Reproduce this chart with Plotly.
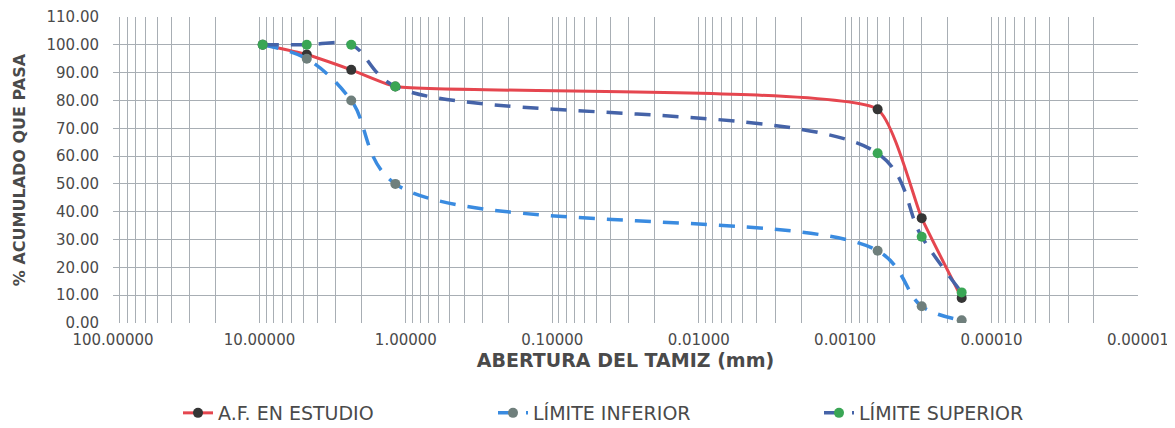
import plotly.graph_objects as go

# Sieve openings (mm)
abertura = [9.5, 4.75, 2.36, 1.18, 0.0006, 0.0003, 0.00016]
af_estudio = [100.0, 96.5, 91.0, 85.0, 76.8, 37.7, 9.0]
limite_inferior = [100.0, 95.0, 80.0, 50.0, 26.0, 6.0, 1.0]
limite_superior = [100.0, 100.0, 100.0, 85.0, 61.0, 31.0, 11.0]

x_ticks = [100, 10, 1, 0.1, 0.01, 0.001, 0.0001, 0.00001]
x_ticktext = ["100.00000", "10.00000", "1.00000", "0.10000", "0.01000",
              "0.00100", "0.00010", "0.00001"]

minor_vals = [m * 10.0 ** k for k in range(-5, 2) for m in range(2, 10)]

FONT = "DejaVu Sans, Liberation Sans, Arial, sans-serif"
GRID = "#a8aeb4"
TXT = "#4a4a4a"

# the page body adds an 8px offset, so the figure is 8px smaller each way
W, H = 1167, 420

fig = go.Figure()

fig.add_trace(go.Scatter(
    x=abertura, y=af_estudio, name="A.F. EN ESTUDIO", legend="legend",
    mode="lines+markers",
    line=dict(color="#e5464f", width=3, shape="spline", smoothing=0.45),
    marker=dict(color="#353535", size=10),
))
fig.add_trace(go.Scatter(
    x=abertura, y=limite_inferior, name="LÍMITE INFERIOR", legend="legend2",
    mode="lines+markers",
    line=dict(color="#3a8be0", width=3.5, shape="spline", smoothing=1, dash="16px,12px"),
    marker=dict(color="#6f7f7c", size=10),
))
fig.add_trace(go.Scatter(
    x=abertura, y=limite_superior, name="LÍMITE SUPERIOR", legend="legend3",
    mode="lines+markers",
    line=dict(color="#4563a8", width=3.5, shape="spline", smoothing=1, dash="16px,12px"),
    marker=dict(color="#3aa655", size=10),
))

leg_common = dict(orientation="h", xref="container", yref="container",
                  y=1 - 405 / H, yanchor="middle", xanchor="left",
                  font=dict(size=19, color=TXT), bgcolor="rgba(0,0,0,0)")

fig.update_layout(
    width=W, height=H,
    margin=dict(l=105, r=37, t=9, b=105),
    paper_bgcolor="white", plot_bgcolor="white",
    font=dict(family=FONT, size=15, color=TXT),
    showlegend=True,
    legend=dict(x=170 / W, **leg_common),
    legend2=dict(x=485 / W, **leg_common),
    legend3=dict(x=811 / W, **leg_common),
)

fig.update_xaxes(
    type="log", range=[2, -5], automargin=False,
    tickvals=x_ticks, ticktext=x_ticktext,
    tickfont=dict(size=15, color=TXT), ticklabelstandoff=6,
    showgrid=True, gridcolor=GRID, gridwidth=1,
    minor=dict(tickvals=minor_vals, showgrid=True, gridcolor=GRID, gridwidth=1, ticks=""),
    showline=False, zeroline=False, ticks="",
    title=dict(text="<b>ABERTURA DEL TAMIZ (mm)</b>", font=dict(size=19, color=TXT),
               standoff=5),
)
fig.update_yaxes(
    range=[0, 110], dtick=10, tickformat=".2f", automargin=False,
    tickfont=dict(size=15, color=TXT), ticklabelstandoff=13,
    showgrid=True, gridcolor=GRID, gridwidth=1,
    showline=False, zeroline=False, ticks="",
    title=dict(text="<b>% ACUMULADO QUE PASA</b>", font=dict(size=16, color=TXT),
               standoff=16),
)

fig.write_html("out.html")
